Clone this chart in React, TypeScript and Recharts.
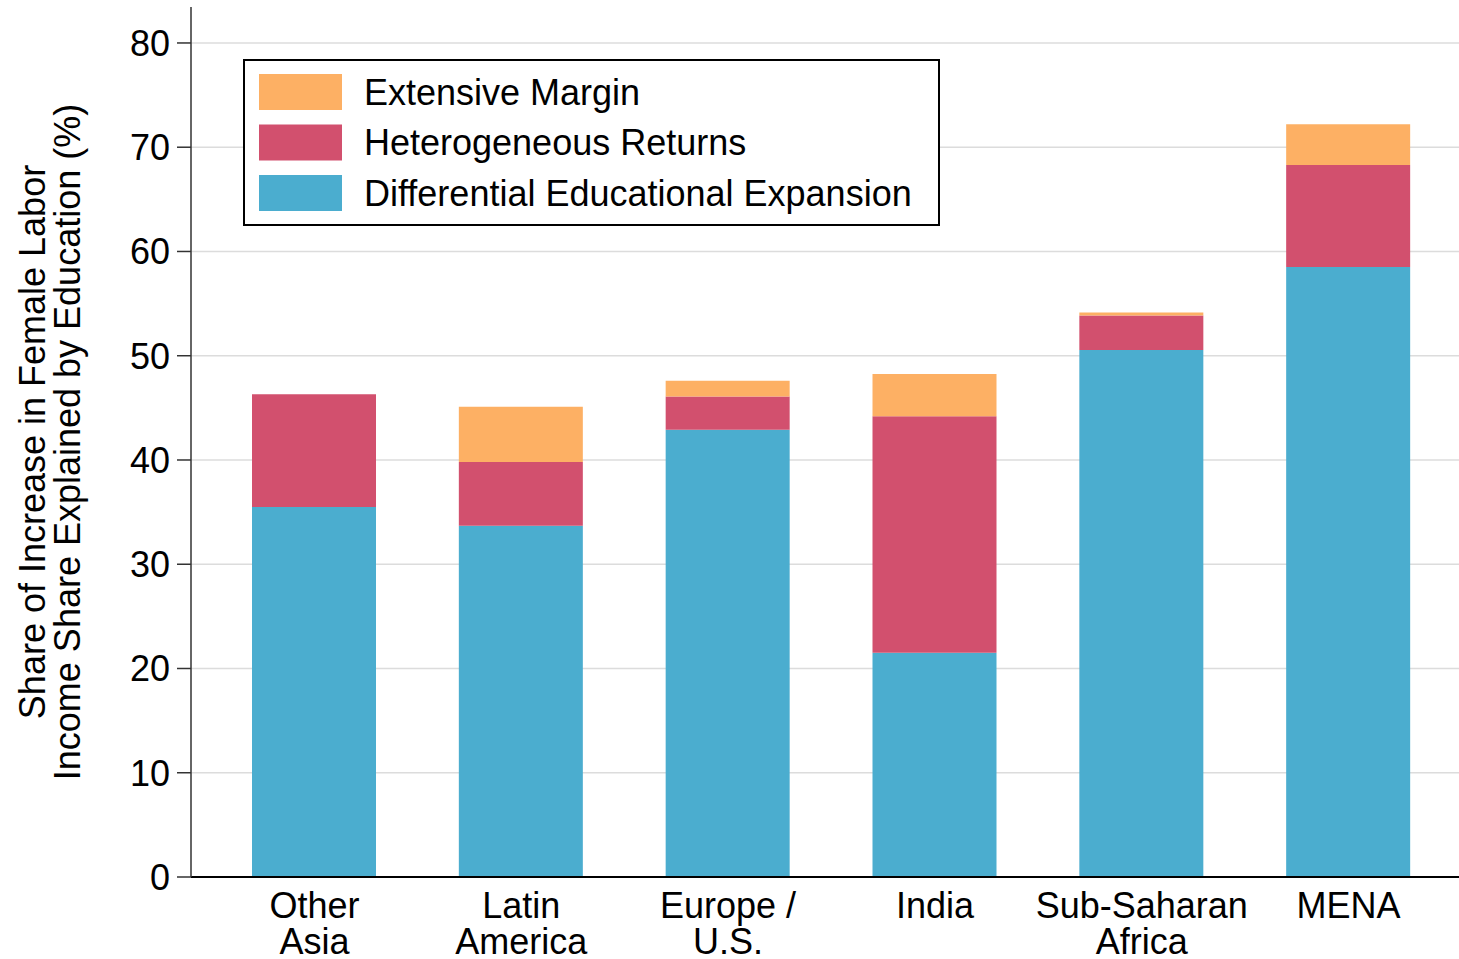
import { BarChart, Bar, XAxis, YAxis, CartesianGrid } from 'recharts'

const regions = ['Other Asia', 'Latin America', 'Europe / U.S.', 'India', 'Sub-Saharan Africa', 'MENA']
const regionLines = [['Other', 'Asia'], ['Latin', 'America'], ['Europe /', 'U.S.'], ['India'], ['Sub-Saharan', 'Africa'], ['MENA']]
const educational = [35.5, 33.7, 42.9, 21.5, 50.55, 58.5]
const heterogeneous = [10.8, 6.1, 3.2, 22.7, 3.3, 9.8]
const extensive = [0, 5.3, 1.5, 4.05, 0.3, 3.9]
const yTicks = [0, 10, 20, 30, 40, 50, 60, 70, 80]
const yMax = 83.45

const series = [
  { key: 'extensive', name: 'Extensive Margin', color: '#fdb064' },
  { key: 'heterogeneous', name: 'Heterogeneous Returns', color: '#d2506e' },
  { key: 'educational', name: 'Differential Educational Expansion', color: '#4badcf' },
]

const chartData = regions.map((region, i) => ({
  region,
  educational: educational[i],
  heterogeneous: heterogeneous[i],
  extensive: extensive[i],
}))

const font = 'Liberation Sans, Arial, sans-serif'

function RegionTick(props: any) {
  const { x, y, index } = props
  const lines = regionLines[index] || [props.payload.value]
  return (
    <text x={x} y={y + 33} textAnchor="middle" fontSize={36} fontFamily={font} fill="#000">
      {lines.map((line, i) => (
        <tspan key={i} x={x} dy={i === 0 ? 0 : 36}>
          {line}
        </tspan>
      ))}
    </text>
  )
}

function ChartLegend() {
  return (
    <g>
      <rect x={244} y={60} width={695} height={165} fill="#fff" stroke="#000" strokeWidth={2} />
      {series.map((s, i) => {
        const cy = 92 + i * 50.5
        return (
          <g key={s.key}>
            <rect x={259} y={cy - 18} width={83} height={36} fill={s.color} />
            <text x={364} y={cy} dominantBaseline="central" fontSize={36} fontFamily={font} fill="#000">
              {s.name}
            </text>
          </g>
        )
      })}
    </g>
  )
}

function AxisTitle() {
  return (
    <g fontSize={36} fontFamily={font} fill="#000" textAnchor="middle">
      <text x={32} y={442} transform="rotate(-90 32 442)" dominantBaseline="central">
        Share of Increase in Female Labor
      </text>
      <text x={67} y={442} transform="rotate(-90 67 442)" dominantBaseline="central">
        Income Share Explained by Education (%)
      </text>
    </g>
  )
}

export default function App() {
  return (
    <div style={{ position: 'absolute', left: 0, top: 0, background: '#fff' }}>
      <BarChart width={1459} height={959} data={chartData} margin={{ top: 7, right: 0, bottom: 0, left: 0 }}>
        <CartesianGrid
          vertical={false}
          stroke="#dcdcdc"
          strokeWidth={1.5}
          horizontalCoordinatesGenerator={({ offset }: any) =>
            yTicks.slice(1).map((t) => offset.top + offset.height * (1 - t / yMax))
          }
        />
        <XAxis
          dataKey="region"
          height={82}
          padding={{ left: 20, right: 7 }}
          tick={<RegionTick />}
          tickLine={false}
          axisLine={{ stroke: '#000', strokeWidth: 2 }}
          interval={0}
        />
        <YAxis
          width={191}
          domain={[0, yMax]}
          ticks={yTicks}
          tickSize={14}
          tickMargin={7}
          tick={{ fill: '#000', fontSize: 36, fontFamily: font }}
          tickLine={{ stroke: '#333', strokeWidth: 1.5 }}
          axisLine={{ stroke: '#333', strokeWidth: 1.5 }}
        />
        <Bar dataKey="educational" stackId="a" fill="#4badcf" barSize={124} isAnimationActive={false} />
        <Bar dataKey="heterogeneous" stackId="a" fill="#d2506e" barSize={124} isAnimationActive={false} />
        <Bar dataKey="extensive" stackId="a" fill="#fdb064" barSize={124} isAnimationActive={false} />
        <ChartLegend />
        <AxisTitle />
      </BarChart>
    </div>
  )
}
